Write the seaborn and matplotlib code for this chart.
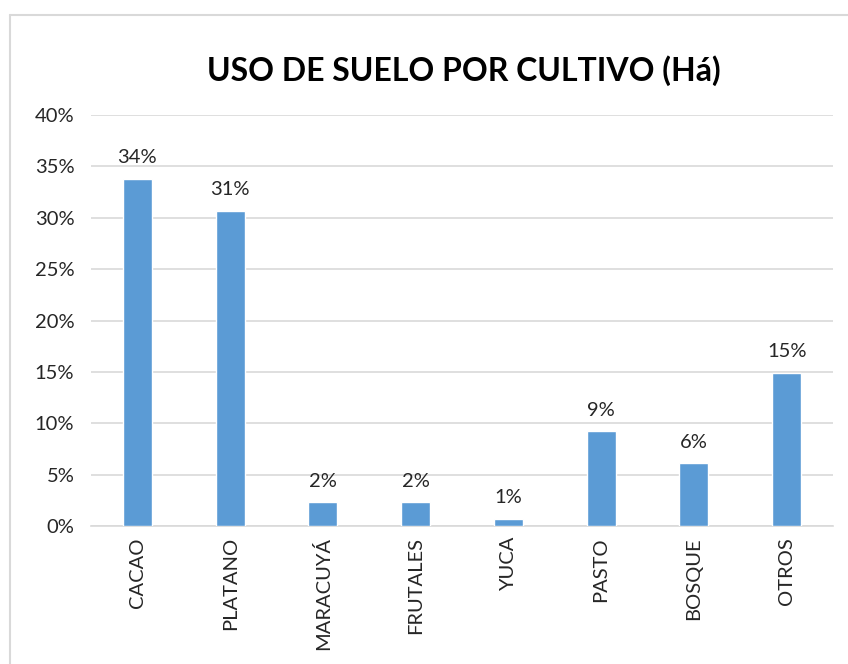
import matplotlib
matplotlib.use("Agg")
import matplotlib.pyplot as plt
from matplotlib.lines import Line2D
import seaborn as sns
import pandas as pd

categories = ["CACAO", "PLATANO", "MARACUYÁ", "FRUTALES", "YUCA", "PASTO", "BOSQUE", "OTROS"]
values = [33.8, 30.7, 2.3, 2.3, 0.7, 9.2, 6.1, 14.9]
yticks = [0, 5, 10, 15, 20, 25, 30, 35, 40]
title = "USO DE SUELO POR CULTIVO (Há)"

sns.set_theme(style="white")
plt.rcParams['font.family'] = ['Lato', 'DejaVu Sans']

df = pd.DataFrame({"cat": categories, "val": values})

fig = plt.figure(figsize=(8.48, 6.64), dpi=100)
ax = fig.add_axes([91/848, 138/664, (833-91)/848, (526-115)/664])
sns.barplot(data=df, x="cat", y="val", color="#5B9BD5", width=0.31, saturation=1, ax=ax, zorder=3)

ax.set_ylim(0, 40)
ax.set_yticks(yticks)
ax.set_yticklabels([f"{t}%" for t in yticks], fontsize=14.5, color="#262626")
ax.set_xlim(-0.5, len(categories) - 0.5)
ax.tick_params(axis="x", labelrotation=90, labelsize=14.5, colors="#262626", length=0, pad=8)
ax.tick_params(axis="y", length=0, pad=12)
ax.set_xlabel("")
ax.set_ylabel("")
ax.grid(axis="y", color="#D9D9D9", linewidth=1.2, zorder=0)
for s in ["top", "right", "left"]:
    ax.spines[s].set_visible(False)
ax.spines["bottom"].set_color("#D9D9D9")
ax.spines["bottom"].set_linewidth(1.2)

ax.bar_label(ax.containers[0], labels=[f"{round(v)}%" for v in values], padding=9,
             fontsize=14.5, color="#262626")

fig.text(464/848, 1 - 71/664, title, ha="center", va="center",
         fontsize=23, fontweight="bold", color="black")

fig.add_artist(Line2D([10/848, 10/848], [0, 1 - 15/664], transform=fig.transFigure,
                      color="#D9D9D9", linewidth=1.5))
fig.add_artist(Line2D([10/848, 1], [1 - 15/664, 1 - 15/664], transform=fig.transFigure,
                      color="#D9D9D9", linewidth=1.5))

fig.savefig("out.png", dpi=100)
